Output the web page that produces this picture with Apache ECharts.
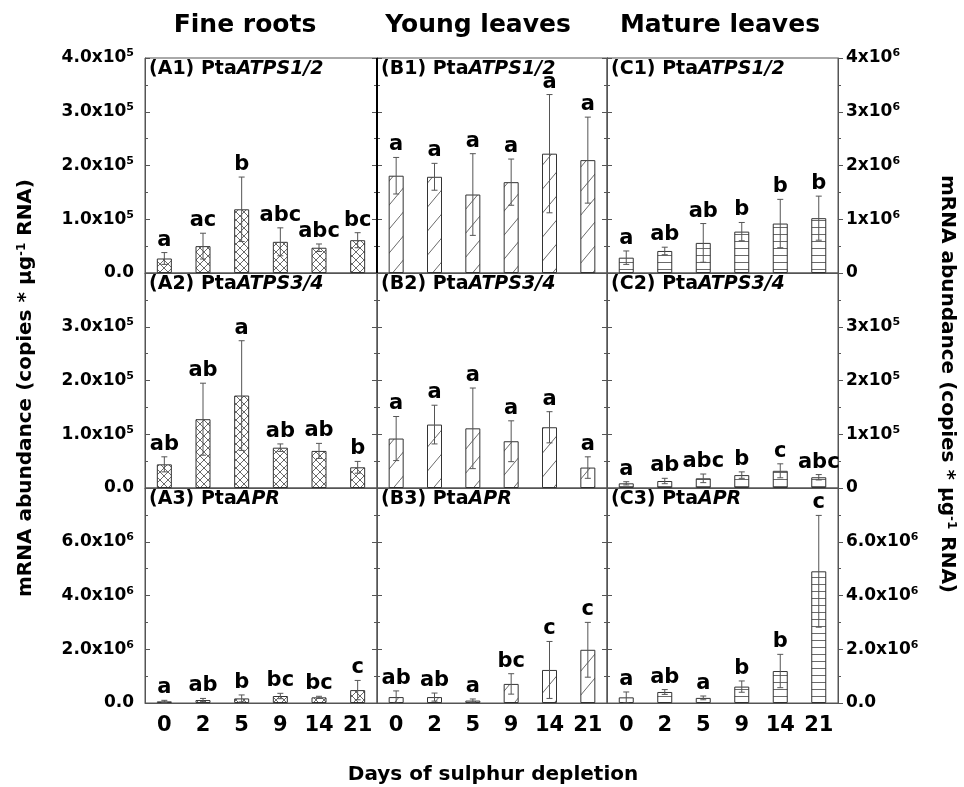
<!DOCTYPE html>
<html>
<head>
<meta charset="utf-8">
<script src="https://cdn.jsdelivr.net/npm/echarts@6/dist/echarts.min.js"></script>
<style>
  html, body { margin: 0; padding: 0; background: #fff; }
  #main { width: 964px; height: 787px; }
</style>
</head>
<body>
<div id="main"></div>
<script>
const days = ["0", "2", "5", "9", "14", "21"];

// fine roots
const a1Mean = [27000, 50000, 118500, 58000, 47000, 61000];
const a1Sd = [11000, 24000, 60000, 26000, 7000, 14000];
const a1Sig = ["a", "ac", "b", "abc", "abc", "bc"];
const a2Mean = [44000, 128000, 172000, 75000, 69000, 38500];
const a2Sd = [14000, 67000, 102000, 7000, 14000, 11000];
const a2Sig = ["ab", "ab", "a", "ab", "ab", "b"];
const a3Mean = [60000, 110000, 170000, 260000, 210000, 480000];
const a3Sd = [40000, 60000, 130000, 100000, 40000, 360000];
const a3Sig = ["a", "ab", "b", "bc", "bc", "c"];

// young leaves
const b1Mean = [181000, 179000, 146000, 169000, 222000, 210000];
const b1Sd = [34000, 25000, 76000, 43000, 110000, 80000];
const b1Sig = ["a", "a", "a", "a", "a", "a"];
const b2Mean = [92000, 118000, 111000, 87000, 113000, 38000];
const b2Sd = [41000, 36000, 75000, 38000, 29000, 20000];
const b2Sig = ["a", "a", "a", "a", "a", "a"];
const b3Mean = [220000, 220000, 90000, 710000, 1230000, 1980000];
const b3Sd = [230000, 150000, 60000, 380000, 1060000, 1020000];
const b3Sig = ["ab", "ab", "a", "bc", "c", "c"];

// mature leaves
const c1Mean = [285000, 410000, 560000, 770000, 920000, 1020000];
const c1Sd = [125000, 70000, 360000, 170000, 450000, 410000];
const c1Sig = ["a", "ab", "ab", "b", "b", "b"];
const c2Mean = [8700, 13000, 18000, 24000, 32000, 20000];
const c2Sd = [3000, 5000, 8000, 6000, 13000, 5000];
const c2Sig = ["a", "ab", "abc", "b", "c", "abc"];
const c3Mean = [210000, 410000, 190000, 610000, 1190000, 4900000];
const c3Sd = [200000, 90000, 70000, 210000, 620000, 2080000];
const c3Sig = ["a", "ab", "a", "b", "b", "c"];

const FONT = '"DejaVu Sans", "Liberation Sans", sans-serif';
const AXIS = "#555";

// fill patterns for the three tissues
function pattern(kind) {
  const cv = document.createElement("canvas");
  const ctx = cv.getContext("2d");
  if (kind === "cross") {
    cv.width = 8; cv.height = 8;
  } else if (kind === "diag") {
    cv.width = 20; cv.height = 24;
  } else {
    cv.width = 4; cv.height = 7;
  }
  ctx.fillStyle = "#fff";
  ctx.fillRect(0, 0, cv.width, cv.height);
  ctx.strokeStyle = "#444";
  ctx.lineWidth = 0.8;
  ctx.beginPath();
  if (kind === "cross") {
    ctx.moveTo(0, 0); ctx.lineTo(8, 8);
    ctx.moveTo(8, 0); ctx.lineTo(0, 8);
  } else if (kind === "diag") {
    ctx.moveTo(0, 24); ctx.lineTo(20, 0);
  } else {
    ctx.moveTo(0, 3.5); ctx.lineTo(4, 3.5);
  }
  ctx.stroke();
  return { image: cv, repeat: "repeat" };
}
const fills = { A: pattern("cross"), B: pattern("diag"), C: pattern("hline") };

function sciLabel(exp, dec, hideMax, max) {
  return function (v) {
    if (hideMax && v === max) return "";
    if (v === 0) return dec ? "{n|0.0}" : "{n|0}";
    return "{n|" + (v / Math.pow(10, exp)).toFixed(dec) + "x10}{s|" + exp + "}";
  };
}
const tickRich = {
  n: { fontFamily: FONT, fontWeight: "bold", fontSize: 17, color: "#000", lineHeight: 20 },
  s: { fontFamily: FONT, fontWeight: "bold", fontSize: 11, color: "#000", verticalAlign: "top", lineHeight: 11 }
};

const rowTop = [58, 273, 488];
const rowH = 215;
const colLeft = [145, 377, 607];
const colW = [232, 230, 231];

const panels = [
  { r: 0, c: 0, id: "A1", gene: "ATPS1/2", mean: a1Mean, sd: a1Sd, sig: a1Sig, max: 400000, step: 100000, left: sciLabel(5, 1, false, 400000) },
  { r: 0, c: 1, id: "B1", gene: "ATPS1/2", mean: b1Mean, sd: b1Sd, sig: b1Sig, max: 400000, step: 100000 },
  { r: 0, c: 2, id: "C1", gene: "ATPS1/2", mean: c1Mean, sd: c1Sd, sig: c1Sig, max: 4000000, step: 1000000, right: sciLabel(6, 0, false, 4000000) },
  { r: 1, c: 0, id: "A2", gene: "ATPS3/4", mean: a2Mean, sd: a2Sd, sig: a2Sig, max: 400000, step: 100000, left: sciLabel(5, 1, true, 400000) },
  { r: 1, c: 1, id: "B2", gene: "ATPS3/4", mean: b2Mean, sd: b2Sd, sig: b2Sig, max: 400000, step: 100000 },
  { r: 1, c: 2, id: "C2", gene: "ATPS3/4", mean: c2Mean, sd: c2Sd, sig: c2Sig, max: 400000, step: 100000, right: sciLabel(5, 0, true, 400000) },
  { r: 2, c: 0, id: "A3", gene: "APR", mean: a3Mean, sd: a3Sd, sig: a3Sig, max: 8000000, step: 2000000, left: sciLabel(6, 1, true, 8000000) },
  { r: 2, c: 1, id: "B3", gene: "APR", mean: b3Mean, sd: b3Sd, sig: b3Sig, max: 8000000, step: 2000000 },
  { r: 2, c: 2, id: "C3", gene: "APR", mean: c3Mean, sd: c3Sd, sig: c3Sig, max: 8000000, step: 2000000, right: sciLabel(6, 1, true, 8000000) }
];

function errorBars(sig) {
  return function (params, api) {
    const i = api.value(0), m = api.value(1), e = api.value(2);
    const hi = api.coord([i, m + e]);
    const lo = api.coord([i, Math.max(m - e, 0)]);
    const cap = 3;
    const style = { stroke: "#555", lineWidth: 1 };
    return {
      type: "group",
      children: [
        { type: "line", shape: { x1: hi[0], y1: hi[1], x2: lo[0], y2: lo[1] }, style: style },
        { type: "line", shape: { x1: hi[0] - cap, y1: hi[1], x2: hi[0] + cap, y2: hi[1] }, style: style },
        { type: "line", shape: { x1: lo[0] - cap, y1: lo[1], x2: lo[0] + cap, y2: lo[1] }, style: style },
        {
          type: "text",
          style: {
            text: sig[params.dataIndex], x: hi[0], y: hi[1] - 2,
            align: "center", verticalAlign: "bottom",
            fontFamily: FONT, fontWeight: "bold", fontSize: 21, fill: "#000"
          }
        }
      ]
    };
  };
}

const grid = [], xAxis = [], yAxis = [], series = [], graphic = [];

panels.forEach(function (p, k) {
  grid.push({
    left: colLeft[p.c], top: rowTop[p.r], width: colW[p.c], height: rowH,
    show: true, borderColor: AXIS, borderWidth: 1
  });
  xAxis.push({
    gridIndex: k, type: "category", data: days,
    axisLine: { lineStyle: { color: AXIS } },
    axisTick: { alignWithLabel: true, length: 5, lineStyle: { color: AXIS } },
    axisLabel: {
      show: p.r === 2, margin: 12, color: "#000",
      fontFamily: FONT, fontWeight: "bold", fontSize: 21
    },
    splitLine: { show: false }
  });
  ["left", "right"].forEach(function (side) {
    const fmt = p[side];
    const outer = side === "right" && p.c === 2;
    yAxis.push({
      gridIndex: k, type: "value", position: side,
      min: 0, max: p.max, interval: p.step,
      axisLine: { show: true, lineStyle: { color: AXIS } },
      axisTick: { show: true, inside: !outer, length: 5, lineStyle: { color: AXIS } },
      minorTick: { show: true, splitNumber: 2, length: 3, lineStyle: { color: AXIS } },
      splitLine: { show: false },
      axisLabel: {
        show: !!fmt, formatter: fmt || "", rich: tickRich,
        margin: side === "left" ? 11 : 8
      }
    });
  });
  series.push({
    type: "bar", xAxisIndex: k, yAxisIndex: 2 * k,
    data: p.mean, barWidth: 15, silent: true,
    itemStyle: { color: fills[p.id[0]], borderColor: "#333", borderWidth: 1 }
  });
  series.push({
    type: "custom", xAxisIndex: k, yAxisIndex: 2 * k, z: 5, silent: true,
    data: p.mean.map(function (m, i) { return [i, m, p.sd[i]]; }),
    renderItem: errorBars(p.sig)
  });
  graphic.push({
    type: "text", x: colLeft[p.c] + 4, y: rowTop[p.r] + 11,
    style: {
      text: "{n|(" + p.id + ") Pta}{i|" + p.gene + "}",
      verticalAlign: "middle", textVerticalAlign: "middle",
      rich: {
        n: { fontFamily: FONT, fontWeight: "bold", fontSize: 19, fill: "#000", color: "#000" },
        i: { fontFamily: FONT, fontWeight: "bold", fontStyle: "italic", fontSize: 19, fill: "#000", color: "#000" }
      }
    }
  });
});

const heads = [["Fine roots", 245], ["Young leaves", 478], ["Mature leaves", 720]];
heads.forEach(function (h) {
  graphic.push({
    type: "text", x: h[1], y: 25,
    style: {
      text: h[0], align: "center", textAlign: "center",
      verticalAlign: "middle", textVerticalAlign: "middle",
      font: "bold 25px " + FONT, fill: "#000"
    }
  });
});

graphic.push({
  type: "text", x: 493, y: 775,
  style: {
    text: "Days of sulphur depletion", align: "center", textAlign: "center",
    verticalAlign: "middle", textVerticalAlign: "middle",
    font: "bold 20px " + FONT, fill: "#000"
  }
});

const nameRich = {
  n: { fontFamily: FONT, fontWeight: "bold", fontSize: 20, fill: "#000", color: "#000" },
  s: { fontFamily: FONT, fontWeight: "bold", fontSize: 12, fill: "#000", color: "#000", verticalAlign: "top", lineHeight: 12 }
};
[[26, 388, Math.PI / 2], [947, 384, -Math.PI / 2]].forEach(function (t) {
  graphic.push({
    type: "text", x: t[0], y: t[1], rotation: t[2],
    style: {
      text: "{n|mRNA abundance (copies * µg}{s|-1}{n| RNA)}",
      align: "center", textAlign: "center",
      verticalAlign: "middle", textVerticalAlign: "middle",
      rich: nameRich
    }
  });
});

// heavier divider between A1 and B1
graphic.push({
  type: "line", shape: { x1: 377, y1: 58, x2: 377, y2: 273 },
  style: { stroke: "#000", lineWidth: 2 }, z: 100
});

const myChart = echarts.init(document.getElementById("main"));
myChart.setOption({
  animation: false,
  backgroundColor: "#fff",
  grid: grid,
  xAxis: xAxis,
  yAxis: yAxis,
  series: series,
  graphic: graphic
});
</script>
</body>
</html>
